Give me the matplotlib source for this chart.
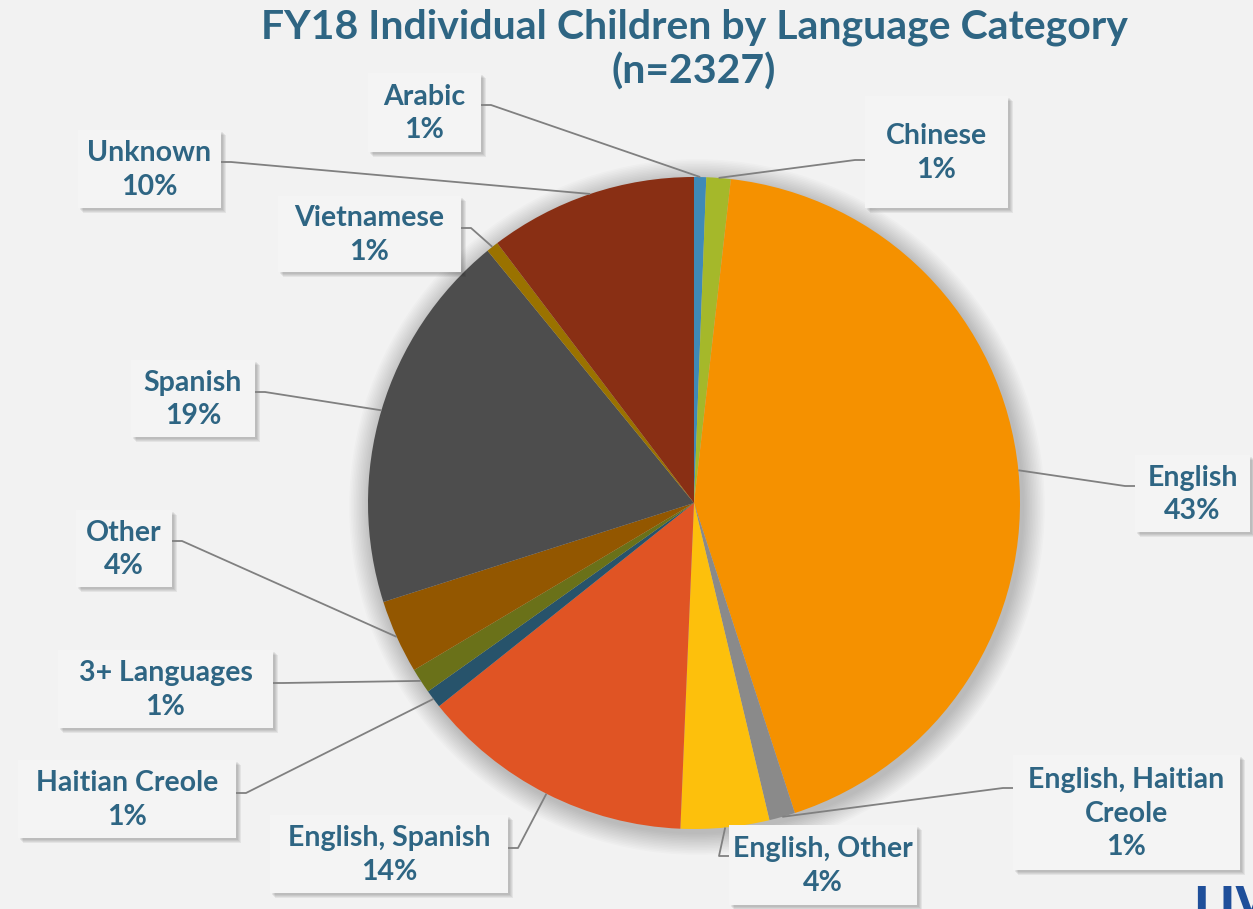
import matplotlib
matplotlib.use("Agg")
import matplotlib.pyplot as plt
from matplotlib.patches import Rectangle, Circle
from matplotlib import font_manager
import numpy as np

# slices clockwise from 12 o'clock
languages = ['Arabic', 'Chinese', 'English', 'English, Haitian Creole', 'English, Other',
             'English, Spanish', 'Haitian Creole', '3+ Languages', 'Other', 'Spanish',
             'Vietnamese', 'Unknown']
counts = [14, 28, 1005, 30, 102, 317, 21, 29, 85, 442, 14, 240]
colors = ['#3f8ab8', '#a5b82a', '#f59100', '#8a8a8a', '#fdc00c', '#e05424',
          '#27536b', '#6a7119', '#935700', '#4d4d4d', '#9a7200', '#892f14']
label_text = ['Arabic', 'Chinese', 'English', 'English, Haitian\nCreole', 'English, Other',
              'English, Spanish', 'Haitian Creole', '3+ Languages', 'Other', 'Spanish',
              'Vietnamese', 'Unknown']

# label boxes in pixel layout: x0, y0, x1, y1, leader anchor y
boxes = [
    (368, 73, 481, 152, 105),
    (865, 96, 1008, 208, 160),
    (1135, 455, 1250, 532, 486),
    (1013, 755, 1240, 870, 788),
    (729, 825, 917, 905, 856),
    (270, 815, 508, 893, 848),
    (18, 760, 236, 838, 793),
    (58, 650, 273, 728, 683),
    (76, 510, 172, 587, 541),
    (131, 360, 255, 437, 392),
    (278, 196, 461, 272, 228),
    (78, 130, 221, 208, 162),
]

W, H = 1253, 909
CX, CY, R = 694, 503, 326
BG = '#f2f2f2'
TXT = '#2e6583'

avail = {f.name for f in font_manager.fontManager.ttflist}
lab_font = 'Lato' if 'Lato' in avail else 'DejaVu Sans'

fig = plt.figure(figsize=(W / 100, H / 100), dpi=100, facecolor=BG)
ax = fig.add_axes([0, 0, 1, 1])
ax.set_facecolor(BG)

# soft shadow behind the pie
for i in range(14):
    ax.add_patch(Circle((CX + 3, CY + 4), R + 1 + i * 1.6, color='#000000',
                        alpha=0.014, lw=0, zorder=0))

wedges, _ = ax.pie(counts, colors=colors, startangle=-90, counterclock=True,
                   center=(CX, CY), radius=R, wedgeprops=dict(linewidth=0))
for w in wedges:
    w.set_zorder(2)

total = sum(counts)
for w, txt, cnt, (x0, y0, x1, y1, ay) in zip(wedges, label_text, counts, boxes):
    # shadow
    for k in range(4):
        ax.add_patch(Rectangle((x0 + 2 + k, y0 + 2 + k), x1 - x0, y1 - y0,
                               facecolor='#000000', alpha=0.06, lw=0, zorder=3))
    ax.add_patch(Rectangle((x0, y0), x1 - x0, y1 - y0, facecolor='#f4f4f4',
                           edgecolor='none', zorder=4))
    pct = cnt / total * 100
    ax.text((x0 + x1) / 2, (y0 + y1) / 2 + 1, f"{txt}\n{pct:.0f}%", ha='center',
            va='center', fontsize=20.5, fontweight='bold', color=TXT, family=lab_font,
            linespacing=1.38, zorder=5)
    # leader line
    mid = np.deg2rad((w.theta1 + w.theta2) / 2)
    px = CX + R * np.cos(mid)
    py = CY + R * np.sin(mid)
    if (x0 + x1) / 2 < px:
        sx = x1
        stub = sx + 10
    else:
        sx = x0
        stub = sx - 10
    ax.plot([sx, stub, px], [ay, ay, py], color='#808080', lw=1.3, zorder=3.5,
            solid_capstyle='butt')

# title, one text per line
ax.text(CX, 27, "FY18 Individual Children by Language Category", ha='center',
        va='center', fontsize=29.5, fontweight='bold', color=TXT, family=lab_font)
ax.text(CX, 72, "(n=2327)", ha='center',
        va='center', fontsize=29.5, fontweight='bold', color=TXT, family=lab_font)

ax.text(1193, 884, "LIV", ha='left', va='top', fontsize=30, fontweight='bold',
        color='#1f4f9a', family='DejaVu Sans')

ax.set_xlim(0, W)
ax.set_ylim(H, 0)
ax.axis('off')

fig.savefig('out.png', dpi=100, facecolor=BG)
